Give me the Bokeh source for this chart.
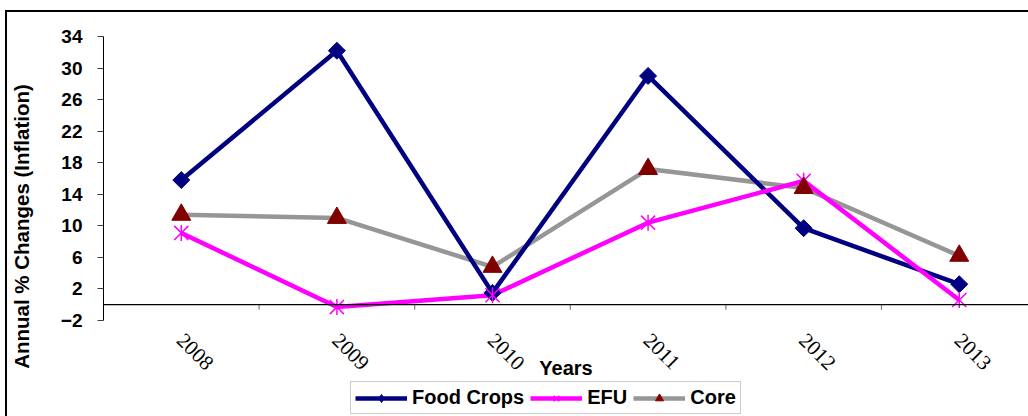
from math import pi
from bokeh.plotting import figure
from bokeh.models import (Range1d, FixedTicker, Legend, LegendItem, Span, Label,
                          InlineStyleSheet)
from bokeh.embed import file_html
from bokeh.resources import INLINE

years = ["2008", "2009", "2010", "2011", "2012", "2013"]
food_crops = [15.8, 32.2, 1.5, 29.0, 9.7, 2.6]
efu = [9.1, -0.3, 1.2, 10.4, 15.7, 0.6]
core = [11.4, 11.0, 4.8, 17.2, 14.8, 6.2]
y_ticks = [-2, 2, 6, 10, 14, 18, 22, 26, 30, 34]

xs = list(range(len(years)))
bounds = [i + 0.5 for i in xs]

FONT = "Liberation Sans"

# frame: left at 103px, top at 36px, runs to the right and bottom edges
p = figure(width=1028, height=416,
           x_range=Range1d(-0.5, 5.445), y_range=Range1d(-14.17, 34),
           output_backend="svg", toolbar_location=None, x_axis_location=None,
           min_border_left=103, min_border_right=0,
           min_border_top=36, min_border_bottom=0)
p.border_fill_color = None
p.background_fill_color = "white"
p.outline_line_color = None
p.grid.visible = False
p.stylesheets = [InlineStyleSheet(css=(
    ":host { background:"
    " linear-gradient(#000,#000) 5px 10px / 2px 100% no-repeat,"
    " linear-gradient(#000,#000) 5px 10px / 100% 2px no-repeat, #fff; }"))]

# y axis
ya = p.yaxis[0]
ya.ticker = FixedTicker(ticks=y_ticks)
ya.bounds = (min(y_ticks), max(y_ticks))
ya.minor_tick_line_color = None
ya.major_tick_in = 0
ya.major_tick_out = 6
ya.major_tick_line_color = "#404040"
ya.axis_line_color = "black"
ya.major_label_text_font = FONT
ya.major_label_text_font_style = "bold"
ya.major_label_text_font_size = "19px"
ya.major_label_text_color = "black"
ya.major_label_standoff = 15
ya.axis_label = "Annual % Changes (Inflation)"
ya.axis_label_text_font = FONT
ya.axis_label_text_font_style = "bold"
ya.axis_label_text_font_size = "20.5px"
ya.axis_label_text_color = "black"
ya.axis_label_standoff = 25

# category axis at zero
p.add_layout(Span(location=0, dimension="width", line_color="black", line_width=1.2))
p.segment(x0=bounds, y0=[0] * len(bounds), x1=bounds, y1=[-0.65] * len(bounds),
          line_color="#808080", line_width=1.2)
p.text(x=xs, y=[0] * len(xs), text=years, angle=-pi / 4,
       text_align="left", text_baseline="top", x_offset=4, y_offset=27,
       text_font="Liberation Sans", text_font_style="normal",
       text_font_size="21px", text_color="black")
p.add_layout(Label(x=(p.x_range.start + p.x_range.end) / 2, y=-8.05, text="Years",
                   text_align="center", text_baseline="middle",
                   text_font=FONT, text_font_style="bold",
                   text_font_size="20px", text_color="black"))

# lines
l_core = p.line(xs, core, line_color="#969696", line_width=4.5)
l_food = p.line(xs, food_crops, line_color="#000080", line_width=4.5)
l_efu = p.line(xs, efu, line_color="#FF00FF", line_width=4.5)

# markers
m_food = p.scatter(xs, food_crops, marker="square", angle=pi / 4, size=12,
                   fill_color="#000080", line_color="#000080")
# inner diamond (hidden inside the rotated square) that serves as the legend key
k_food = p.scatter(xs, food_crops, marker="diamond", size=13,
                   fill_color="#000080", line_color="#000080")
m_efu1 = p.scatter(xs, efu, marker="x", size=20, line_color="#FF00FF", line_width=1.5)
m_efu2 = p.scatter(xs, efu, marker="dash", angle=pi / 2, size=16,
                   line_color="#FF00FF", line_width=1.5)
m_core = p.scatter(xs, core, marker="triangle", size=19,
                   fill_color="#800000", line_color="#800000")

legend = Legend(items=[
    LegendItem(label="Food Crops", renderers=[l_food, k_food]),
    LegendItem(label="EFU", renderers=[l_efu, m_efu1, m_efu2]),
    LegendItem(label="Core", renderers=[l_core, m_core]),
], orientation="horizontal", location=(247, 2), margin=0,
    label_text_font=FONT, label_text_font_style="bold",
    label_text_font_size="20px", label_text_color="black",
    glyph_width=52, glyph_height=20, label_standoff=5, spacing=6, padding=4,
    border_line_color="#999999", border_line_width=1.5,
    background_fill_color="white", background_fill_alpha=1)
p.add_layout(legend)

open("out.html", "w").write(file_html(p, INLINE))
